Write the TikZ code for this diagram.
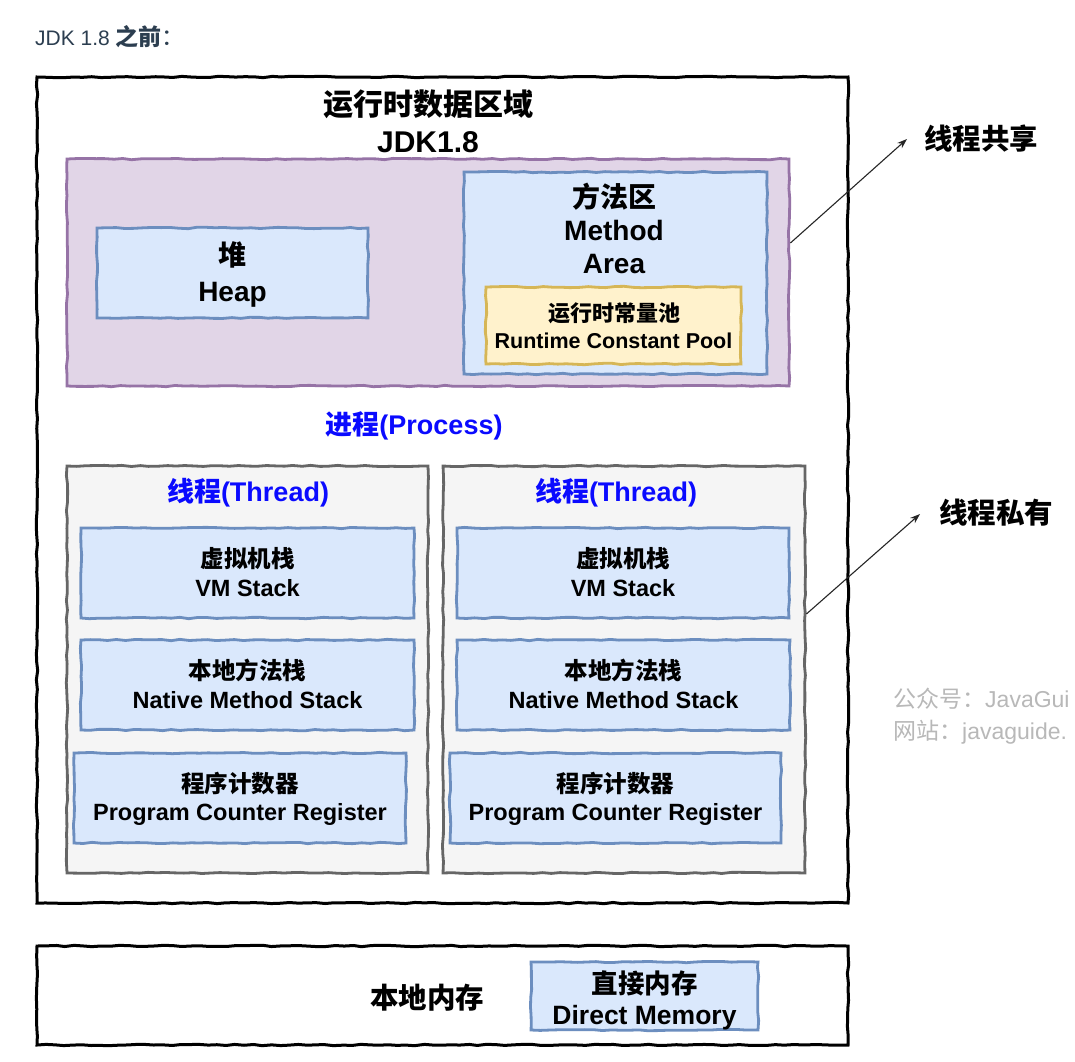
\documentclass[tikz,border=0pt]{standalone}
\usepackage{fontspec}
\setmainfont{Liberation Sans}
\newfontfamily\cjk{Noto Sans CJK SC}
\usetikzlibrary{arrows.meta,decorations.pathmorphing}
\newcommand\zh[1]{{\cjk #1}}
\newcommand\fs[1]{\fontsize{#1}{#1}\selectfont}
\definecolor{pfill}{HTML}{E1D5E7}
\definecolor{pdraw}{HTML}{9673A6}
\definecolor{bfill}{HTML}{DAE8FC}
\definecolor{bdraw}{HTML}{6C8EBF}
\definecolor{yfill}{HTML}{FFF2CC}
\definecolor{ydraw}{HTML}{D6B656}
\definecolor{gfill}{HTML}{F5F5F5}
\definecolor{gdraw}{HTML}{666666}
\definecolor{headc}{HTML}{2C3E50}
\definecolor{wmc}{HTML}{B8B8B8}
\definecolor{procc}{HTML}{0A0AFF}
\tikzset{
  sketch/.style={decorate, decoration={random steps, segment length=9pt, amplitude=0.7pt}},
  boxbase/.style={rectangle, inner sep=0pt, line width=2.8pt, sketch},
  outerbox/.style={boxbase, draw=black, fill=white, line width=3pt},
  purplebox/.style={boxbase, draw=pdraw, fill=pfill},
  bluebox/.style={boxbase, draw=bdraw, fill=bfill},
  yellowbox/.style={boxbase, draw=ydraw, fill=yfill},
  graybox/.style={boxbase, draw=gdraw, fill=gfill},
  lbl/.style={inner sep=0pt, anchor=base, font=\bfseries},
  bluelbl/.style={lbl, text=procc},
  wmlbl/.style={inner sep=0pt, anchor=base west, text=wmc},
  conn/.style={line width=1.1pt, draw=black!85, -{Stealth[length=10pt,width=7pt]}}
}
\begin{document}
\begin{tikzpicture}[x=1pt,y=-1pt]
\pgfmathsetseed{11}
\useasboundingbox (0,0) rectangle (1075,1061);
\fill[white] (0,0) rectangle (1075,1061);

% heading
\node[inner sep=0pt, anchor=base west, text=headc] (head) at (35,45) {\fs{21}JDK 1.8 {\fs{23}\zh{\bfseries 之前}\zh{：}}};

% outer runtime data area
\node[outerbox, minimum width=811pt, minimum height=826pt] (outer) at (442.5,490) {};
\node[lbl] (title1) at (428,115) {\fs{30}\zh{运行时数据区域}};
\node[lbl] (title2) at (428,152) {\fs{30}JDK1.8};

% shared area
\node[purplebox, minimum width=722pt, minimum height=227pt] (shared) at (428,272.5) {};
\node[bluebox, minimum width=271pt, minimum height=90pt] (heap) at (232.5,273) {};
\node[lbl] (heapzh) at (232.5,265) {\fs{28}\zh{堆}};
\node[lbl] (heapen) at (232.5,301) {\fs{28}Heap};

\node[bluebox, minimum width=303pt, minimum height=202pt] (method) at (615.5,273) {};
\node[lbl] (methodzh) at (614,207.5) {\fs{28}\zh{方法区}};
\node[lbl] (methoden1) at (614,240) {\fs{28}Method};
\node[lbl] (methoden2) at (614,273) {\fs{28}Area};

\node[yellowbox, minimum width=255pt, minimum height=77pt] (pool) at (613.5,325.5) {};
\node[lbl] (poolzh) at (614,321) {\fs{22}\zh{运行时常量池}};
\node[lbl] (poolen) at (613.5,348) {\fs{21.5}Runtime Constant Pool};

% process
\node[bluelbl] (proc) at (414,434) {\fs{27}\zh{进程}(Process)};

% threads
\node[graybox, minimum width=361pt, minimum height=407pt] (thrL) at (247.5,669.5) {};
\node[graybox, minimum width=362pt, minimum height=407pt] (thrR) at (624,669.5) {};
\node[bluelbl] (thrLt) at (248,501) {\fs{27}\zh{线程}(Thread)};
\node[bluelbl] (thrRt) at (616,501) {\fs{27}\zh{线程}(Thread)};

\node[bluebox, minimum width=333pt, minimum height=90pt] (vmL) at (247.5,573) {};
\node[lbl] (vmLzh) at (247.5,567) {\fs{23.5}\zh{虚拟机栈}};
\node[lbl] (vmLen) at (247.5,596) {\fs{23.5}VM Stack};
\node[bluebox, minimum width=333pt, minimum height=90pt] (natL) at (247.5,685) {};
\node[lbl] (natLzh) at (247.5,679) {\fs{23.5}\zh{本地方法栈}};
\node[lbl] (natLen) at (247.5,708) {\fs{23.5}Native Method Stack};
\node[bluebox, minimum width=332pt, minimum height=90pt] (pcL) at (240,798) {};
\node[lbl] (pcLzh) at (240,792) {\fs{23.5}\zh{程序计数器}};
\node[lbl] (pcLen) at (240,820) {\fs{23.5}Program Counter Register};

\node[bluebox, minimum width=332pt, minimum height=90pt] (vmR) at (623,573) {};
\node[lbl] (vmRzh) at (623,567) {\fs{23.5}\zh{虚拟机栈}};
\node[lbl] (vmRen) at (623,596) {\fs{23.5}VM Stack};
\node[bluebox, minimum width=333pt, minimum height=90pt] (natR) at (623.5,685) {};
\node[lbl] (natRzh) at (623.5,679) {\fs{23.5}\zh{本地方法栈}};
\node[lbl] (natRen) at (623.5,708) {\fs{23.5}Native Method Stack};
\node[bluebox, minimum width=331pt, minimum height=90pt] (pcR) at (615.5,798) {};
\node[lbl] (pcRzh) at (615.5,792) {\fs{23.5}\zh{程序计数器}};
\node[lbl] (pcRen) at (615.5,820) {\fs{23.5}Program Counter Register};

% side labels and arrows
\node[lbl] (sharedlbl) at (981,149) {\fs{28.5}\zh{线程共享}};
\node[lbl] (privlbl) at (996,523) {\fs{28.5}\zh{线程私有}};
\coordinate (tip1) at (907,139);
\coordinate (tip2) at (920,514);
\draw[conn] ([yshift=29.5pt]shared.east) -- (tip1);
\draw[conn] ([yshift=55.5pt]thrR.east) -- (tip2);

% watermark
\node[wmlbl] (wm1) at (893,707) {\fs{23}\zh{公众号：}JavaGui};
\node[wmlbl] (wm2) at (893,739) {\fs{23}\zh{网站：}javaguide.};

% native memory
\node[outerbox, minimum width=811pt, minimum height=99pt] (native) at (442.5,995.5) {};
\node[lbl] (nativelbl) at (427,1008) {\fs{28.5}\zh{本地内存}};
\node[bluebox, minimum width=227pt, minimum height=68pt] (direct) at (644.5,996) {};
\node[lbl] (directzh) at (644.5,993) {\fs{26.5}\zh{直接内存}};
\node[lbl] (directen) at (644.5,1024) {\fs{26.5}Direct Memory};
\end{tikzpicture}
\end{document}
